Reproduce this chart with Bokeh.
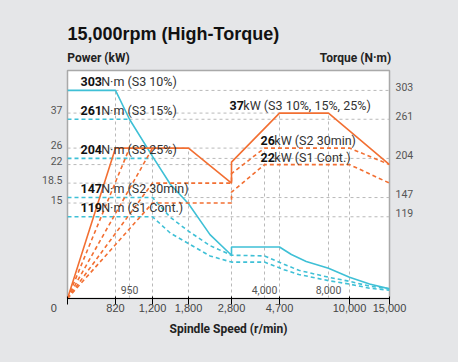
import numpy as np
from bokeh.plotting import figure
from bokeh.models import Range1d, LinearAxis, FixedTicker, Title
from bokeh.core.properties import value
from bokeh.embed import file_html
from bokeh.resources import INLINE

# ---------------- data ----------------
TITLE = "15,000rpm (High-Torque)"
LEFT_TITLE = "Power (kW)"
RIGHT_TITLE = "Torque (N·m)"
X_TITLE = "Spindle Speed (r/min)"

# the speed axis of the original is not linear: breakpoints rpm -> axis position
RPM_BREAKS = [0, 820, 950, 1200, 1800, 2800, 4000, 4700, 8000, 10000, 15000]
RPM_SCALE = [0, 48, 62, 85, 121, 164, 197, 212, 261, 282, 322]
# the power axis is not linear either: kW -> position on the torque (N·m) scale
KW_BREAKS = [0, 15, 18.5, 22, 26, 37]
KW_SCALE = [0, 139, 168, 195, 219, 270]
NM_MAX = 332

X_TICKS = [0, 820, 1200, 1800, 2800, 4700, 10000, 15000]
X_INNER_TICKS = [950, 4000, 8000]
KW_TICKS = [37, 26, 22, 18.5, 15]
NM_TICKS = [303, 261, 204, 147, 119]

# power curves (kW)
S3_RPM = [0, 820, 1800, 2800, 2800, 4700, 8000, 15000]
S3_KW = [0, 26, 26, 18.5, 22.6, 37, 37, 22]
S3_15_RPM = [0, 950]
S3_15_KW = [0, 26]
S3_25_RPM = [0, 1200]
S3_25_KW = [0, 26]
S2_RPM = [0, 1200, 2800, 2800, 4000, 10000, 15000]
S2_KW = [0, 18.5, 18.5, 20.3, 26, 26, 22]
S1_RPM = [0, 1200, 2800, 2800, 4000, 10000, 15000]
S1_KW = [0, 15, 15, 16.9, 22, 22, 18.5]

# torque curves (N·m)
T_S3_RPM = [0, 820, 950, 1200, 1500, 1800, 2300, 2800, 2800, 4700, 5500, 6500, 8000, 10000, 12500, 15000]
T_S3_NM = [303, 303, 261, 207, 166, 138, 93, 63, 75, 75, 64, 54, 44, 31, 21, 14]
T_S3_15_RPM = [0, 950]
T_S3_15_NM = [261, 261]
T_S3_25_RPM = [0, 1200]
T_S3_25_NM = [204, 204]
T_S2_RPM = [0, 1200, 1500, 1800, 2300, 2800, 4000, 5000, 6000, 8000, 10000, 12500, 15000]
T_S2_NM = [147, 147, 118, 98, 77, 63, 62, 50, 41, 31, 25, 18, 14]
T_S1_RPM = [0, 1200, 1500, 1800, 2300, 2800, 4000, 5000, 6000, 8000, 10000, 12500, 15000]
T_S1_NM = [119, 119, 95, 80, 62, 53, 53, 42, 35, 26, 21, 15, 12]

# guide lines
NM_GRID_FROM = [820, 950, 1200, 1200, 1200]      # torque guides run from here to the right axis
KW_GRID_TO = [4700, 4000, 4000, 1200, 1200]      # power guides run from the left axis to here
V_GRID_RPM = [820, 950, 1200, 1800, 2800, 4000, 4700, 8000, 10000]
V_GRID_TOP_UNIT = ["nm", "nm", "kw", "kw", "kw", "kw", "kw", "kw", "kw"]
V_GRID_TOP = [303, 261, 26, 26, 22.6, 26, 37, 37, 26]

# annotations
NM_NOTES = ["N·m (S3 10%)", "N·m (S3 15%)", "N·m (S3 25%)", "N·m (S2 30min)", "N·m (S1 Cont.)"]
KW_NOTE_VALUES = [37, 26, 22]
KW_NOTES = ["kW (S3 10%, 15%, 25%)", "kW (S2 30min)", "kW (S1 Cont.)"]
KW_NOTE_AT = [2800, 4000, 4000]

# ---------------- style ----------------
BG = "#e5e6e8"
ORANGE = "#f26f32"
CYAN = "#3fc0d6"
GRID = "#b9b9b9"
FONT = "Roboto"
LBL = "#555555"


def xm(rpm):
    return np.interp(np.asarray(rpm, dtype=float), RPM_BREAKS, RPM_SCALE)


def pk(kw):
    return np.interp(np.asarray(kw, dtype=float), KW_BREAKS, KW_SCALE)


def fmt(v):
    return f"{v:,}" if float(v).is_integer() else str(v)


p = figure(width=458, height=362, x_range=Range1d(0, RPM_SCALE[-1]), y_range=Range1d(0, NM_MAX),
           output_backend="svg", toolbar_location=None, title=None,
           min_border_left=67, min_border_right=69, min_border_top=70, min_border_bottom=64,
           background_fill_color="white", border_fill_color=BG,
           outline_line_color="#a9a9a9", outline_line_width=1.5)
p.xgrid.visible = False
p.ygrid.visible = False

# axes
LBL_SHIFT = 5  # value labels sit slightly above their guide lines
xt = [int(v) for v in xm(X_TICKS)]
xlabels = {t: fmt(v) for t, v in zip(xt, X_TICKS)}
xlabels[xt[0]] = fmt(X_TICKS[0]) + "\u00a0" * 9   # the zero sits left of the corner
p.xaxis.ticker = FixedTicker(ticks=xt)
p.xaxis.major_label_overrides = xlabels
p.xaxis.axis_label = X_TITLE
p.xaxis.axis_label_text_font = FONT
p.xaxis.axis_label_text_font_style = "bold"
p.xaxis.axis_label_text_font_size = "12px"
p.xaxis.axis_label_text_color = "#222222"
p.xaxis.axis_label_standoff = 5
p.xaxis.major_label_standoff = -3

lt = [int(v) + LBL_SHIFT for v in pk(KW_TICKS)]
p.yaxis.ticker = FixedTicker(ticks=lt)
p.yaxis.major_label_overrides = {t: fmt(v) for t, v in zip(lt, KW_TICKS)}
p.yaxis.major_label_standoff = 5

rt = [v + LBL_SHIFT for v in NM_TICKS]
raxis = LinearAxis(ticker=FixedTicker(ticks=rt),
                   major_label_overrides={t: fmt(v) for t, v in zip(rt, NM_TICKS)},
                   major_label_standoff=6)
p.add_layout(raxis, "right")

# unit headings over the two value axes
HEAD_AT = [31, 288]
top_axis = LinearAxis(ticker=FixedTicker(ticks=HEAD_AT),
                      major_label_overrides={HEAD_AT[0]: LEFT_TITLE, HEAD_AT[1]: RIGHT_TITLE},
                      major_label_standoff=6,
                      major_label_text_font_style="bold",
                      major_label_text_font_size="12px",
                      major_label_text_color="#222222")
p.add_layout(top_axis, "above")

for ax in [p.xaxis[0], p.yaxis[0], raxis, top_axis]:
    ax.axis_line_color = None
    ax.major_tick_line_color = None
    ax.minor_tick_line_color = None
    ax.major_tick_out = 0
    ax.major_tick_in = 0
    ax.minor_tick_out = 0
    ax.minor_tick_in = 0
    ax.major_label_text_font = FONT
    if ax is not top_axis:
        ax.major_label_text_font_size = "10.5px"
        ax.major_label_text_color = LBL

p.add_layout(Title(text=TITLE, align="left", text_font="Liberation Sans", text_font_style="bold",
                   text_font_size="18px", text_color="#111111", standoff=8), "above")

# guide lines
gx0, gx1, gy0, gy1 = [], [], [], []
for v, r in zip(NM_TICKS, NM_GRID_FROM):
    gx0.append(float(xm(r))); gx1.append(float(xm(RPM_BREAKS[-1]))); gy0.append(v); gy1.append(v)
for v, r in zip(KW_TICKS, KW_GRID_TO):
    y = float(pk(v))
    gx0.append(0.0); gx1.append(float(xm(r))); gy0.append(y); gy1.append(y)
for r, u, t in zip(V_GRID_RPM, V_GRID_TOP_UNIT, V_GRID_TOP):
    x = float(xm(r))
    top = float(t) if u == "nm" else float(pk(t))
    gx0.append(x); gx1.append(x); gy0.append(0.0); gy1.append(top)
p.segment(gx0, gy0, gx1, gy1, line_color=GRID, line_width=1, line_dash="3 3")

# torque curves
p.line(xm(T_S1_RPM), T_S1_NM, line_color=CYAN, line_width=1.6, line_dash="4 3")
p.line(xm(T_S2_RPM), T_S2_NM, line_color=CYAN, line_width=1.6, line_dash="4 3")
p.line(xm(T_S3_25_RPM), T_S3_25_NM, line_color=CYAN, line_width=1.6, line_dash="4 3")
p.line(xm(T_S3_15_RPM), T_S3_15_NM, line_color=CYAN, line_width=1.6, line_dash="4 3")
p.line(xm(T_S3_RPM), T_S3_NM, line_color=CYAN, line_width=1.6)

# power curves
p.line(xm(S1_RPM), pk(S1_KW), line_color=ORANGE, line_width=1.6, line_dash="4 3")
p.line(xm(S2_RPM), pk(S2_KW), line_color=ORANGE, line_width=1.6, line_dash="4 3")
p.line(xm(S3_25_RPM), pk(S3_25_KW), line_color=ORANGE, line_width=1.6, line_dash="4 3")
p.line(xm(S3_15_RPM), pk(S3_15_KW), line_color=ORANGE, line_width=1.6, line_dash="4 3")
p.line(xm(S3_RPM), pk(S3_KW), line_color=ORANGE, line_width=1.6)

# inner speed labels
p.text(x=xm(X_INNER_TICKS), y=[0] * len(X_INNER_TICKS), text=[fmt(v) for v in X_INNER_TICKS],
       text_font=value(FONT), text_font_size="10.5px", text_color=LBL,
       text_align="center", text_baseline="middle", y_offset=-9)

# annotations
NOTE_SIZE = "12.5px"
DIGIT_W = 6.9
nm_num = [str(v) for v in NM_TICKS]
p.text(x=[0] * 5, y=NM_TICKS, text=nm_num, text_font=value(FONT), text_font_style="bold",
       text_font_size=NOTE_SIZE, text_color="#111111", text_baseline="middle",
       x_offset=13, y_offset=-9)
p.text(x=[0] * 5, y=NM_TICKS, text=NM_NOTES, text_font=value(FONT),
       text_font_size=NOTE_SIZE, text_color="#333333", text_baseline="middle",
       x_offset=[13 + DIGIT_W * len(s) for s in nm_num], y_offset=-9)

kw_num = [str(v) for v in KW_NOTE_VALUES]
kx = xm(KW_NOTE_AT)
ky = pk(KW_NOTE_VALUES)
kxo = [-2, -4, -4]
kyo = [-8, -8, -7]
p.text(x=kx, y=ky, text=kw_num, text_font=value(FONT), text_font_style="bold",
       text_font_size=NOTE_SIZE, text_color="#111111", text_baseline="middle",
       x_offset=kxo, y_offset=kyo)
p.text(x=kx, y=ky, text=KW_NOTES, text_font=value(FONT),
       text_font_size=NOTE_SIZE, text_color="#333333", text_baseline="middle",
       x_offset=[o + DIGIT_W * len(s) for o, s in zip(kxo, kw_num)], y_offset=kyo)

html = file_html(p, INLINE, title="15,000rpm (High-Torque)")
html = html.replace("</head>", "<style>html,body{background:#e5e6e8;}</style></head>", 1)
open("out.html", "w").write(html)
